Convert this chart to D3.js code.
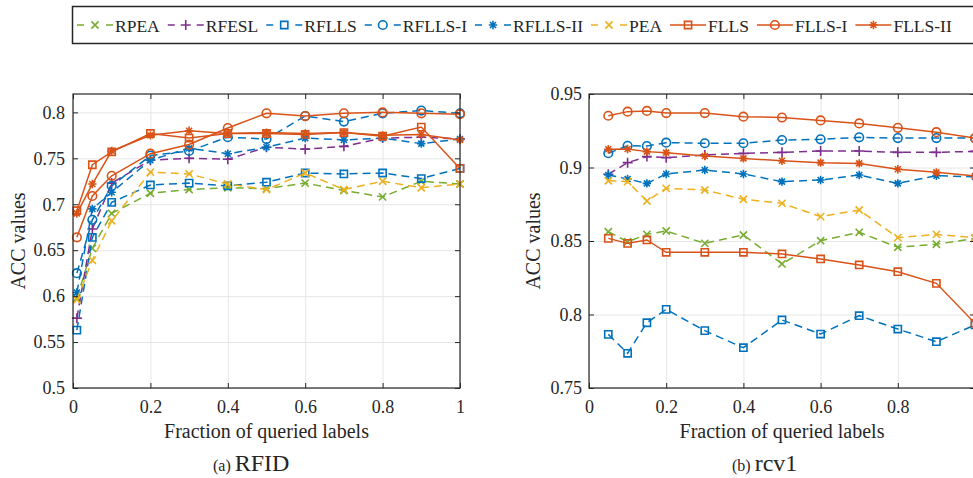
<!DOCTYPE html>
<html>
<head>
<meta charset="utf-8">
<script src="https://cdn.jsdelivr.net/npm/d3@7/dist/d3.min.js"></script>
<style>
  body { margin: 0; background: #fff; }
  svg text { font-family: "Liberation Serif", "Times New Roman", serif; fill: #262626; }
</style>
</head>
<body>
<div id="chart"></div>
<script>
// Series names (legend order)
var methods = ['RPEA', 'RFESL', 'RFLLS', 'RFLLS-I', 'RFLLS-II', 'PEA', 'FLLS', 'FLLS-I', 'FLLS-II'];

// Tick values and labels
var xTicks = [0, 0.2, 0.4, 0.6, 0.8, 1];
var rfidXTickLabels = ['0', '0.2', '0.4', '0.6', '0.8', '1'];
var rcv1XTickLabels = ['0', '0.2', '0.4', '0.6', '0.8', ''];  // the "1" falls off the right edge in the original
var rfidYTicks = [0.5, 0.55, 0.6, 0.65, 0.7, 0.75, 0.8];
var rfidYTickLabels = ['0.5', '0.55', '0.6', '0.65', '0.7', '0.75', '0.8'];
var rcv1YTicks = [0.75, 0.8, 0.85, 0.9, 0.95];
var rcv1YTickLabels = ['0.75', '0.8', '0.85', '0.9', '0.95'];

// (a) RFID - fraction of queried labels
var rfidX = [0.01, 0.05, 0.1, 0.2, 0.3, 0.4, 0.5, 0.6, 0.7, 0.8, 0.9, 1.0];
var rfidRPEA    = [0.598, 0.652, 0.690, 0.712, 0.716, 0.718, 0.717, 0.723, 0.715, 0.708, 0.725, 0.722];
var rfidRFESL   = [0.576, 0.673, 0.723, 0.748, 0.750, 0.749, 0.762, 0.760, 0.763, 0.772, 0.773, 0.771];
var rfidRFLLS   = [0.563, 0.664, 0.702, 0.721, 0.723, 0.720, 0.724, 0.734, 0.733, 0.734, 0.728, 0.739];
var rfidRFLLSI  = [0.625, 0.683, 0.720, 0.753, 0.758, 0.773, 0.771, 0.796, 0.790, 0.799, 0.802, 0.799];
var rfidRFLLSII = [0.604, 0.695, 0.713, 0.748, 0.761, 0.755, 0.762, 0.772, 0.770, 0.772, 0.766, 0.771];
var rfidPEA     = [0.596, 0.639, 0.682, 0.735, 0.733, 0.722, 0.716, 0.734, 0.716, 0.725, 0.718, 0.722];
var rfidFLLS    = [0.693, 0.743, 0.757, 0.777, 0.772, 0.777, 0.777, 0.776, 0.778, 0.774, 0.784, 0.739];
var rfidFLLSI   = [0.664, 0.709, 0.731, 0.755, 0.765, 0.783, 0.799, 0.796, 0.799, 0.800, 0.799, 0.798];
var rfidFLLSII  = [0.690, 0.722, 0.758, 0.775, 0.780, 0.777, 0.778, 0.777, 0.778, 0.775, 0.776, 0.770];

// (b) rcv1
var rcv1X = [0.05, 0.1, 0.15, 0.2, 0.3, 0.4, 0.5, 0.6, 0.7, 0.8, 0.9, 1.0];
var rcv1RPEA    = [0.8563, 0.8495, 0.8545, 0.8568, 0.8484, 0.8541, 0.8344, 0.8502, 0.8559, 0.8457, 0.8478, 0.8518];
var rcv1RFESL   = [0.8954, 0.9033, 0.9074, 0.9067, 0.9085, 0.9096, 0.9103, 0.9112, 0.9112, 0.9103, 0.9103, 0.9110];
var rcv1RFLLS   = [0.7865, 0.7736, 0.7944, 0.8035, 0.7890, 0.7774, 0.7963, 0.7867, 0.7992, 0.7901, 0.7815, 0.7929];
var rcv1RFLLSI  = [0.9097, 0.9148, 0.9146, 0.9169, 0.9165, 0.9165, 0.9187, 0.9192, 0.9205, 0.9200, 0.9200, 0.9200];
var rcv1RFLLSII = [0.8949, 0.8922, 0.8892, 0.8956, 0.8983, 0.8956, 0.8904, 0.8915, 0.8949, 0.8892, 0.8944, 0.8937];
var rcv1PEA     = [0.8910, 0.8904, 0.8772, 0.8858, 0.8847, 0.8784, 0.8756, 0.8666, 0.8711, 0.8523, 0.8545, 0.8523];
var rcv1FLLS    = [0.8518, 0.8484, 0.8507, 0.8423, 0.8423, 0.8423, 0.8412, 0.8378, 0.8337, 0.8291, 0.8212, 0.7940];
var rcv1FLLSI   = [0.9352, 0.9380, 0.9385, 0.9370, 0.9370, 0.9346, 0.9340, 0.9320, 0.9300, 0.9270, 0.9240, 0.9200];
var rcv1FLLSII  = [0.9124, 0.9126, 0.9108, 0.9101, 0.9078, 0.9062, 0.9046, 0.9033, 0.9028, 0.8988, 0.8967, 0.8942];

// Line styles for each method (MATLAB default colour order)
var styles = [
  { color: '#77AC30', marker: 'x', dashed: true },
  { color: '#7E2F8E', marker: 'plus', dashed: true },
  { color: '#0072BD', marker: 'square', dashed: true },
  { color: '#0072BD', marker: 'circle', dashed: true },
  { color: '#0072BD', marker: 'star', dashed: true },
  { color: '#EDB120', marker: 'x', dashed: true },
  { color: '#D95319', marker: 'square', dashed: false },
  { color: '#D95319', marker: 'circle', dashed: false },
  { color: '#D95319', marker: 'star', dashed: false }
];

var width = 973, height = 478;
var axisColor = '#262626';
var serif = '"Liberation Serif", "Times New Roman", serif';

var svg = d3.select('#chart')
  .append('svg')
  .attr('width', width)
  .attr('height', height)
  .style('display', 'block');

svg.append('rect').attr('width', width).attr('height', height).attr('fill', '#fff');

// marker shape as path string, centred on 0,0
function markerPath(type) {
  var p = d3.path();
  if (type === 'x') {
    p.moveTo(-3.6, -3.6); p.lineTo(3.6, 3.6);
    p.moveTo(-3.6, 3.6); p.lineTo(3.6, -3.6);
  } else if (type === 'plus') {
    p.moveTo(-5, 0); p.lineTo(5, 0);
    p.moveTo(0, -5); p.lineTo(0, 5);
  } else if (type === 'square') {
    p.rect(-3.6, -3.6, 7.2, 7.2);
  } else if (type === 'circle') {
    p.moveTo(4.3, 0); p.arc(0, 0, 4.3, 0, 2 * Math.PI);
  } else if (type === 'star') {
    p.moveTo(-4.2, 0); p.lineTo(4.2, 0);
    p.moveTo(0, -4.2); p.lineTo(0, 4.2);
    p.moveTo(-3, -3); p.lineTo(3, 3);
    p.moveTo(-3, 3); p.lineTo(3, -3);
  }
  return p.toString();
}

function drawPanel(cfg) {
  var xScale = d3.scaleLinear().domain([0, 1]).range([cfg.left, cfg.right]);
  var yScale = d3.scaleLinear().domain(cfg.yDomain).range([cfg.bottom, cfg.top]);
  var w = cfg.right - cfg.left, h = cfg.bottom - cfg.top;

  var g = svg.append('g');

  // grid
  var grid = g.append('g').attr('class', 'grid');
  grid.append('g')
    .attr('transform', 'translate(0,' + cfg.bottom + ')')
    .call(d3.axisBottom(xScale).tickValues(xTicks).tickSize(-h).tickFormat(''));
  grid.append('g')
    .attr('transform', 'translate(' + cfg.left + ',0)')
    .call(d3.axisLeft(yScale).tickValues(cfg.yTicks).tickSize(-w).tickFormat(''));
  grid.selectAll('.domain').remove();
  grid.selectAll('line').attr('stroke', '#e6e6e6');

  // series
  var line = d3.line()
    .x(function (d) { return xScale(d.x); })
    .y(function (d) { return yScale(d.y); });

  cfg.series.forEach(function (vals, i) {
    var st = styles[i];
    var pts = cfg.x.map(function (x, j) { return { x: x, y: vals[j] }; });
    g.append('path')
      .datum(pts)
      .attr('d', line)
      .attr('fill', 'none')
      .attr('stroke', st.color)
      .attr('stroke-width', 1.5)
      .attr('stroke-dasharray', st.dashed ? '8,5' : null);
    g.selectAll('.m' + i)
      .data(pts)
      .enter().append('path')
      .attr('class', 'm' + i)
      .attr('transform', function (d) { return 'translate(' + xScale(d.x) + ',' + yScale(d.y) + ')'; })
      .attr('d', markerPath(st.marker))
      .attr('fill', 'none')
      .attr('stroke', st.color)
      .attr('stroke-width', 1.6);
  });

  // box
  g.append('rect')
    .attr('x', cfg.left).attr('y', cfg.top)
    .attr('width', w).attr('height', h)
    .attr('fill', 'none').attr('stroke', axisColor).attr('stroke-width', 1.2);

  // axes with inward ticks
  var axes = g.append('g').attr('class', 'axes');
  axes.append('g')
    .attr('transform', 'translate(0,' + cfg.bottom + ')')
    .call(d3.axisBottom(xScale).tickValues(xTicks).tickSizeInner(-5).tickSizeOuter(0).tickPadding(12)
      .tickFormat(function (d, i) { return cfg.xLabels[i]; }));
  axes.append('g')
    .attr('transform', 'translate(' + cfg.left + ',0)')
    .call(d3.axisLeft(yScale).tickValues(cfg.yTicks).tickSizeInner(-5).tickSizeOuter(0).tickPadding(cfg.yPad)
      .tickFormat(function (d, i) { return cfg.yLabels[i]; }));
  axes.append('g')
    .attr('transform', 'translate(0,' + cfg.top + ')')
    .call(d3.axisTop(xScale).tickValues(xTicks).tickSizeInner(-5).tickSizeOuter(0).tickFormat(''));
  axes.append('g')
    .attr('transform', 'translate(' + cfg.right + ',0)')
    .call(d3.axisRight(yScale).tickValues(cfg.yTicks).tickSizeInner(-5).tickSizeOuter(0).tickFormat(''));

  axes.selectAll('.domain').remove();
  axes.selectAll('g').attr('font-family', serif).attr('font-size', 18);
  axes.selectAll('.tick line').attr('stroke', axisColor);
  axes.selectAll('.tick text')
    .attr('font-family', serif)
    .attr('font-size', 18)
    .attr('fill', axisColor);

  // axis titles
  g.append('text')
    .attr('x', (cfg.left + cfg.right) / 2)
    .attr('y', 438)
    .attr('text-anchor', 'middle')
    .style('font-size', '20px')
    .text('Fraction of queried labels');
  g.append('text')
    .attr('transform', 'translate(' + cfg.yTitleX + ',' + ((cfg.top + cfg.bottom) / 2) + ') rotate(-90)')
    .attr('text-anchor', 'middle')
    .style('font-size', '20px')
    .text('ACC values');

  // caption
  var cap = g.append('text')
    .attr('x', cfg.captionX)
    .attr('y', 471);
  cap.append('tspan').style('font-size', '16px').text(cfg.captionTag + ' ');
  cap.append('tspan').style('font-size', '24px').text(cfg.captionName);
}

drawPanel({
  left: 73, right: 460, top: 94, bottom: 388,
  yDomain: [0.5, 0.82], yTicks: rfidYTicks, yLabels: rfidYTickLabels, yPad: 8,
  xLabels: rfidXTickLabels,
  x: rfidX,
  series: [rfidRPEA, rfidRFESL, rfidRFLLS, rfidRFLLSI, rfidRFLLSII, rfidPEA, rfidFLLS, rfidFLLSI, rfidFLLSII],
  yTitleX: 25, captionX: 213, captionTag: '(a)', captionName: 'RFID'
});

drawPanel({
  left: 589, right: 975, top: 94, bottom: 388,
  yDomain: [0.75, 0.95], yTicks: rcv1YTicks, yLabels: rcv1YTickLabels, yPad: 7,
  xLabels: rcv1XTickLabels,
  x: rcv1X,
  series: [rcv1RPEA, rcv1RFESL, rcv1RFLLS, rcv1RFLLSI, rcv1RFLLSII, rcv1PEA, rcv1FLLS, rcv1FLLSI, rcv1FLLSII],
  yTitleX: 540, captionX: 732, captionTag: '(b)', captionName: 'rcv1'
});

// Legend
var legend = svg.append('g');
legend.append('rect')
  .attr('x', 72.5).attr('y', 6.5)
  .attr('width', 930).attr('height', 37)
  .attr('fill', '#fff').attr('stroke', axisColor).attr('stroke-width', 1.5);

var lx = 77;
methods.forEach(function (name, i) {
  var st = styles[i];
  var item = legend.append('g');
  if (st.dashed) {
    item.append('path').attr('d', 'M' + lx + ',25H' + (lx + 7) + 'M' + (lx + 29) + ',25H' + (lx + 36));
  } else {
    item.append('path').attr('d', 'M' + lx + ',25H' + (lx + 36));
  }
  item.select('path').attr('stroke', st.color).attr('stroke-width', 1.5).attr('fill', 'none');
  item.append('path')
    .attr('transform', 'translate(' + (lx + 18) + ',25)')
    .attr('d', markerPath(st.marker))
    .attr('fill', 'none').attr('stroke', st.color).attr('stroke-width', 1.6);
  var t = item.append('text')
    .attr('x', lx + 38).attr('y', 32)
    .attr('font-family', serif)
    .style('font-size', '17.5px')
    .text(name);
  lx = lx + 38 + t.node().getComputedTextLength() + 8;
});
</script>
</body>
</html>
